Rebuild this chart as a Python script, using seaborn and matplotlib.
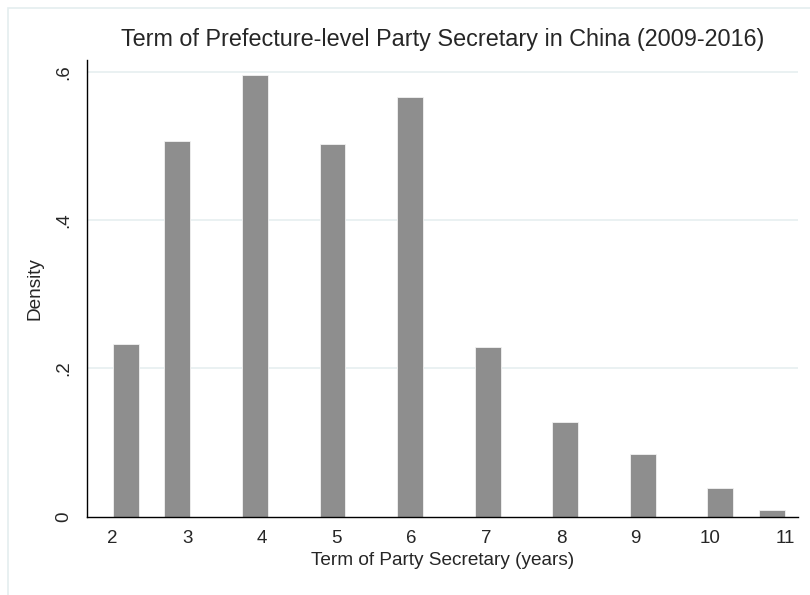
import matplotlib
matplotlib.use("Agg")
import matplotlib.pyplot as plt
from matplotlib.patches import Rectangle
import seaborn as sns
import pandas as pd

# Term lengths (years) and their histogram densities
terms = [2, 3, 4, 5, 6, 7, 8, 9, 10, 11]
density = [0.233, 0.507, 0.596, 0.503, 0.566, 0.229, 0.128, 0.085, 0.039, 0.009]
x_ticks = [2, 3, 4, 5, 6, 7, 8, 9, 10, 11]
y_ticks = [0, 0.2, 0.4, 0.6]
y_tick_labels = ["0", ".2", ".4", ".6"]

df = pd.DataFrame({"term": terms, "density": density})

sns.set_theme(style="white")
plt.rcParams["font.family"] = ["Liberation Sans", "DejaVu Sans"]

fig = plt.figure(figsize=(8.1, 5.95), dpi=100)
ax = fig.add_axes([0.1078, 0.1318, 0.877, 0.7674])

# light outline of the graph region
fig.patches.append(Rectangle((8 / 810, -0.05), 1.2, 1 - 8 / 595 + 0.05,
                             transform=fig.transFigure, fill=False,
                             edgecolor="#e4edef", linewidth=1.2, zorder=0))

for yv in y_ticks[1:]:
    ax.axhline(yv, color="#e8f0f1", linewidth=1.3, zorder=0)

sns.histplot(data=df, x="term", weights="density", bins=26, binrange=(2, 11),
             stat="count", color="#8e8e8e", alpha=1.0, edgecolor="#f2f2f2",
             linewidth=0.6, ax=ax, zorder=2)

ax.set_xlim(1.66, 11.17)
ax.set_ylim(0, 0.6158)
ax.set_xticks(x_ticks)
ax.set_xticklabels([str(t) for t in x_ticks])
ax.set_yticks(y_ticks)
ax.set_yticklabels(y_tick_labels, rotation=90, va="center")

for s in ["top", "right"]:
    ax.spines[s].set_visible(False)
for s in ["left", "bottom"]:
    ax.spines[s].set_color("black")
    ax.spines[s].set_linewidth(1.0)

ax.tick_params(axis="both", direction="out", length=5, width=1.0,
               color="black", labelsize=13.5, pad=5)
ax.tick_params(axis="y", pad=6)

ax.set_xlabel("Term of Party Secretary (years)", fontsize=13.7, labelpad=3)
ax.set_ylabel("Density", fontsize=13.7, labelpad=8)
ax.set_title("Term of Prefecture-level Party Secretary in China (2009-2016)",
             fontsize=16.8, pad=10)

fig.savefig("out.png", dpi=100, facecolor="white")
